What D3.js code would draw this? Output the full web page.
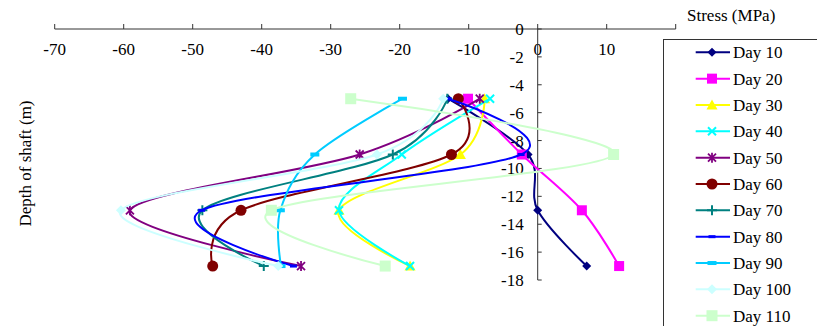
<!DOCTYPE html>
<html><head><meta charset="utf-8">
<script src="https://cdn.jsdelivr.net/npm/d3@7"></script>
<style>body{margin:0;background:#fff}</style>
</head><body><svg id="c" width="817" height="326"></svg>
<script>
const depths = [-5, -9, -13, -17];
const seriesNames = ["Day 10","Day 20","Day 30","Day 40","Day 50","Day 60","Day 70","Day 80","Day 90","Day 100","Day 110"];
const day10  = [-13.0, -1.4, 0.0, 7.1];
const day20  = [-10.1, -2.3, 6.4, 11.8];
const day30  = [-7.7, -11.2, -28.8, -18.5];
const day40  = [-6.9, -19.7, -28.8, -18.5];
const day50  = [-8.4, -25.8, -59.1, -34.3];
const day60  = [-11.5, -12.5, -43.0, -47.1];
const day70  = [-13.1, -21.0, -48.6, -39.7];
const day80  = [-13.0, -2.4, -48.7, -35.4];
const day90  = [-19.6, -32.3, -37.3, -37.2];
const day100 = [-13.7, -23.3, -60.4, -37.6];
const day110 = [-27.1, 11.0, -38.6, -22.1];
const xTicks = [-70,-60,-50,-40,-30,-20,-10,0,10,20];
const xTickLabels = [-70,-60,-50,-40,-30,-20,-10,0,10];
const yTicks = [0,-2,-4,-6,-8,-10,-12,-14,-16,-18];
const colors = ["#000080","#FF00FF","#FFFF00","#00FFFF","#800080","#800000","#008080","#0000FF","#00CCFF","#CCFFFF","#CCFFCC"];
const markers = ["diamond","square","triangle","x","asterisk","circle","plus","dashS","dashL","diamondL","squareL"];
const values = [day10,day20,day30,day40,day50,day60,day70,day80,day90,day100,day110];

const FONT = "Liberation Serif, DejaVu Serif, Noto Serif, serif";
const svg = d3.select("#c");
const x = d3.scaleLinear().domain([-70,20]).range([54.7,675.7]);
const y = d3.scaleLinear().domain([0,-18]).range([29,280]);
const axisColor = "#333";

// X axis (top)
const gx = svg.append("g");
gx.append("line").attr("x1",x(-70)).attr("x2",x(20)).attr("y1",y(0)).attr("y2",y(0)).attr("stroke",axisColor).attr("stroke-width",1);
gx.selectAll("line.t").data(xTicks).join("line").attr("class","t")
  .attr("x1",d=>x(d)).attr("x2",d=>x(d)).attr("y1",y(0)).attr("y2",y(0)-5).attr("stroke",axisColor);
gx.selectAll("text").data(xTickLabels).join("text")
  .attr("x",d=>x(d)).attr("y",55).attr("text-anchor","middle").attr("font-size",17).attr("font-family",FONT).attr("fill","#000")
  .text(d=>d);

// Y axis at x=0
const gy = svg.append("g");
gy.append("line").attr("x1",x(0)).attr("x2",x(0)).attr("y1",y(0)).attr("y2",y(-18)).attr("stroke",axisColor);
gy.selectAll("line.t").data(yTicks).join("line").attr("class","t")
  .attr("x1",x(0)).attr("x2",x(0)+4).attr("y1",d=>y(d)).attr("y2",d=>y(d)).attr("stroke",axisColor);
gy.selectAll("text").data(yTicks).join("text")
  .attr("x",x(0)-14).attr("y",d=>y(d)).attr("dy","0.35em").attr("text-anchor","end").attr("font-size",17).attr("font-family",FONT).attr("fill","#000")
  .text(d=>d);

svg.append("text").attr("x",687).attr("y",21).attr("font-size",17).attr("font-family",FONT).text("Stress (MPa)");
svg.append("text").attr("transform","translate(31,163.5) rotate(-90)").attr("text-anchor","middle").attr("font-size",17).attr("font-family",FONT).text("Depth of shaft (m)");

function drawMarker(g, type, color, cx, cy){
  const s = g.append("g").attr("transform",`translate(${cx},${cy})`);
  switch(type){
    case "diamond": s.append("path").attr("d","M0,-4.5L4.5,0L0,4.5L-4.5,0Z").attr("fill",color); break;
    case "diamondL": s.append("path").attr("d","M0,-5L5,0L0,5L-5,0Z").attr("fill",color); break;
    case "square": s.append("rect").attr("x",-5).attr("y",-5).attr("width",10).attr("height",10).attr("fill",color); break;
    case "squareL": s.append("rect").attr("x",-5.5).attr("y",-5.5).attr("width",11).attr("height",11).attr("fill",color); break;
    case "triangle": s.append("path").attr("d","M0,-5.5L5.5,4.5L-5.5,4.5Z").attr("fill",color); break;
    case "circle": s.append("circle").attr("r",5.5).attr("fill",color); break;
    case "x": s.append("path").attr("d","M-4,-4L4,4M-4,4L4,-4").attr("stroke",color).attr("stroke-width",2); break;
    case "asterisk": s.append("path").attr("d","M-4,-4L4,4M-4,4L4,-4M0,-5L0,5").attr("stroke",color).attr("stroke-width",1.8); break;
    case "plus": s.append("path").attr("d","M-5,0L5,0M0,-5L0,5").attr("stroke",color).attr("stroke-width",2); break;
    case "dashS": s.append("rect").attr("x",-3.5).attr("y",-1.5).attr("width",7).attr("height",3).attr("fill",color); break;
    case "dashL": s.append("rect").attr("x",-4.5).attr("y",-2).attr("width",9).attr("height",4).attr("fill",color); break;
  }
}

const line = d3.line().x(d=>x(d[0])).y(d=>y(d[1])).curve(d3.curveCatmullRom.alpha(0));
const plot = svg.append("g");
values.forEach((vals,i)=>{
  const pts = vals.map((v,j)=>[v,depths[j]]);
  plot.append("path").attr("d",line(pts)).attr("fill","none").attr("stroke",colors[i]).attr("stroke-width",2);
  pts.forEach(p=>drawMarker(plot, markers[i], colors[i], x(p[0]), y(p[1])));
});

// Legend
const lg = svg.append("g");
lg.append("rect").attr("x",663.5).attr("y",39.5).attr("width",200).attr("height",400).attr("fill","#fff").attr("stroke",axisColor);
seriesNames.forEach((name,i)=>{
  const cy = 52.3 + i*26.34;
  lg.append("line").attr("x1",695.7).attr("x2",730).attr("y1",cy).attr("y2",cy).attr("stroke",colors[i]).attr("stroke-width",2);
  drawMarker(lg, markers[i], colors[i], 712, cy);
  lg.append("text").attr("x",733).attr("y",cy).attr("dy","0.35em").attr("font-size",17).attr("font-family",FONT).text(name);
});
</script></body></html>
